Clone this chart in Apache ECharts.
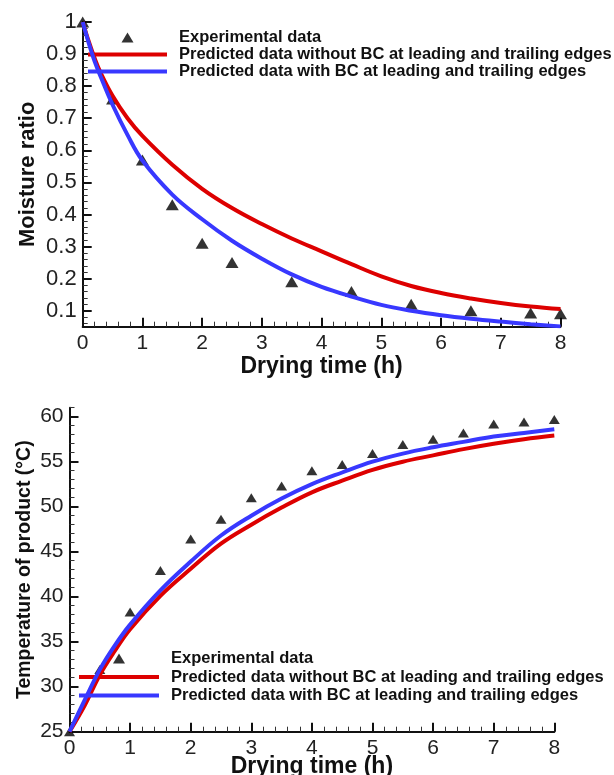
<!DOCTYPE html>
<html>
<head>
<meta charset="utf-8">
<script src="https://cdn.jsdelivr.net/npm/echarts@6/dist/echarts.min.js"></script>
<style>
  html, body { margin: 0; padding: 0; background: #fff; }
  #chart { width: 614px; height: 775px; }
</style>
</head>
<body>
<div id="chart"></div>
<script>
// ---- Moisture ratio vs drying time ----
const expTimeMR = [0, 0.5, 1, 1.5, 2, 2.5, 3.5, 4.5, 5.5, 6.5, 7.5, 8];
const expMR = [1.0, 0.76, 0.57, 0.43, 0.31, 0.25, 0.19, 0.16, 0.12, 0.10, 0.093, 0.09];
const predTimeMR = [0, 0.1, 0.2, 0.3, 0.5, 0.75, 1, 1.5, 2, 2.5, 3, 3.5, 4, 4.5, 5, 5.5, 6, 6.5, 7, 7.5, 8];
const mrNoBC = [1.0, 0.94, 0.887, 0.842, 0.77, 0.70, 0.645, 0.555, 0.48, 0.42, 0.37, 0.325, 0.285, 0.245, 0.207, 0.177, 0.155, 0.138, 0.124, 0.113, 0.105];
const mrBC = [1.0, 0.935, 0.877, 0.83, 0.742, 0.648, 0.568, 0.462, 0.385, 0.318, 0.262, 0.213, 0.174, 0.144, 0.118, 0.10, 0.086, 0.075, 0.066, 0.058, 0.051];

// ---- Product temperature vs drying time ----
const expTimeT = [0, 0.5, 1, 1.5, 2, 2.5, 3, 3.5, 4, 4.5, 5, 5.5, 6, 6.5, 7, 7.5, 8];
const expT = [25, 31.9, 38.3, 42.9, 46.4, 48.6, 51.0, 52.3, 54.0, 54.7, 55.9, 56.9, 57.5, 58.2, 59.2, 59.4, 59.7];
const predTimeT = [0, 0.25, 0.5, 0.75, 1, 1.5, 2, 2.5, 3, 3.5, 4, 4.5, 5, 5.5, 6, 6.5, 7, 7.5, 8];
const tNoBC = [25, 27.9, 31.3, 34.0, 36.4, 40.1, 43.1, 45.9, 48.0, 49.9, 51.6, 52.9, 54.1, 55.0, 55.7, 56.4, 57.0, 57.5, 57.9];
const tBC = [25, 28.5, 31.9, 34.6, 36.9, 40.7, 43.9, 46.8, 49.0, 50.9, 52.5, 53.8, 55.0, 55.9, 56.6, 57.2, 57.8, 58.2, 58.6];

// ---- Tick labels and legend names ----
const mrTicks = [0.1, 0.2, 0.3, 0.4, 0.5, 0.6, 0.7, 0.8, 0.9, 1];
const tTicks = [25, 30, 35, 40, 45, 50, 55, 60];
const nameExp = 'Experimental data';
const nameNoBC = 'Predicted data without BC at leading and trailing edges';
const nameBC = 'Predicted data with BC at leading and trailing edges';

const FONT = '"Liberation Sans", Arial, Helvetica, sans-serif';
const INK = '#111';
const RED = '#dd0000';
const BLUE = '#3838ff';

const zip = (xs, ys) => xs.map((x, i) => [x, ys[i]]);

// minor tick positions (between the major ticks)
function minorValues(lo, hi, step, majors) {
  const out = [];
  const n = Math.round((hi - lo) / step);
  for (let i = 0; i <= n; i++) {
    const v = +(lo + i * step).toFixed(4);
    if (!majors.some(m => Math.abs(m - v) < 1e-6)) out.push(v);
  }
  return out;
}

function xAxisCfg(gridIndex, nameGap) {
  return {
    type: 'value', gridIndex, min: 0, max: 8, interval: 1,
    name: 'Drying time (h)', nameLocation: 'middle', nameGap, nameMoveOverlap: false,
    nameTextStyle: { fontFamily: FONT, fontSize: 23, fontWeight: 'bold', color: INK },
    axisLine: { lineStyle: { color: INK, width: 2 } },
    axisTick: { inside: true, length: 9, lineStyle: { color: INK, width: 2 } },
    minorTick: { show: true, splitNumber: 5, length: 5, lineStyle: { color: '#333', width: 1 } },
    axisLabel: { fontFamily: FONT, fontSize: 21, color: '#222', margin: 6 },
    splitLine: { show: false }
  };
}

function yMainCfg(gridIndex, min, max, ticks, name, nameGap, nameSize, labelSize, fmt) {
  return {
    type: 'value', gridIndex, min, max, position: 'left',
    name, nameLocation: 'middle', nameGap, nameMoveOverlap: false,
    nameTextStyle: { fontFamily: FONT, fontSize: nameSize, fontWeight: 'bold', color: INK },
    axisLine: { show: true, lineStyle: { color: INK, width: 2 } },
    axisTick: { show: true, inside: true, length: 9, customValues: ticks, lineStyle: { color: INK, width: 2 } },
    axisLabel: { show: true, customValues: ticks, fontFamily: FONT, fontSize: labelSize, color: '#222', margin: 6, formatter: fmt },
    splitLine: { show: false }
  };
}

function yMinorCfg(gridIndex, min, max, vals) {
  return {
    type: 'value', gridIndex, min, max, position: 'left', offset: 0,
    axisLine: { show: false },
    axisTick: { show: true, inside: true, length: 5, customValues: vals, lineStyle: { color: '#333', width: 1 } },
    axisLabel: { show: false },
    splitLine: { show: false }
  };
}

// legend with a triangle marker and short thick line swatches
function legendCfg(left, top, itemWidth, itemGap, pad) {
  const bar = 'path://M0,0H80V4H0Z';
  return {
    left, top, orient: 'vertical', itemWidth, itemHeight: 10, itemGap,
    selectedMode: false,
    textStyle: { fontFamily: FONT, fontSize: 16.5, fontWeight: 'bold', color: INK, padding: [0, 0, 0, pad] },
    data: [
      { name: nameExp, icon: 'path://M0,10L6,0L12,10Z', itemStyle: { color: '#000', borderWidth: 0 } },
      { name: nameNoBC, icon: bar, itemStyle: { color: RED, borderWidth: 0 } },
      { name: nameBC, icon: bar, itemStyle: { color: BLUE, borderWidth: 0 } }
    ]
  };
}

function lineSeries(name, color, xIdx, yIdx, xs, ys, z) {
  return {
    name, type: 'line', xAxisIndex: xIdx, yAxisIndex: yIdx,
    symbol: 'none', smooth: 0.4,
    lineStyle: { color, width: 4 }, itemStyle: { color },
    data: zip(xs, ys), z
  };
}

const chart = echarts.init(document.getElementById('chart'), null, { renderer: 'canvas' });

chart.setOption({
  animation: false,
  backgroundColor: '#fff',
  grid: [
    { left: 82.7, right: 53.5, top: 22, bottom: 448.3, outerBoundsMode: 'none' },
    { left: 69.5, right: 59.7, top: 407.7, bottom: 43.3, outerBoundsMode: 'none' }
  ],
  xAxis: [xAxisCfg(0, 28), xAxisCfg(1, 23.5)],
  yAxis: [
    yMainCfg(0, 0.05, 1, mrTicks, 'Moisture ratio', 44, 22, 22, v => (v === 1 ? '1' : v.toFixed(1))),
    yMinorCfg(0, 0.05, 1, minorValues(0.06, 1, 0.02, mrTicks)),
    yMainCfg(1, 25, 61, tTicks, 'Temperature of product (°C)', 35, 19.5, 21, v => String(v)),
    yMinorCfg(1, 25, 61, minorValues(25, 61, 1, tTicks))
  ],
  legend: [
    legendCfg(83, 24, 79, 0, 7),
    legendCfg(74, 645, 80, 1.5, 7)
  ],
  series: [
    {
      name: nameExp, type: 'scatter', xAxisIndex: 0, yAxisIndex: 0,
      symbol: 'triangle', symbolSize: [13, 11], itemStyle: { color: '#000' },
      data: zip(expTimeMR, expMR), z: 2
    },
    lineSeries(nameNoBC, RED, 0, 0, predTimeMR, mrNoBC, 3),
    lineSeries(nameBC, BLUE, 0, 0, predTimeMR, mrBC, 4),
    {
      name: nameExp, type: 'scatter', xAxisIndex: 1, yAxisIndex: 2,
      symbol: 'triangle', symbolSize: [11, 9], itemStyle: { color: '#000' },
      data: zip(expTimeT, expT), z: 2
    },
    lineSeries(nameNoBC, RED, 1, 2, predTimeT, tNoBC, 3),
    lineSeries(nameBC, BLUE, 1, 2, predTimeT, tBC, 4)
  ]
});
</script>
</body>
</html>
